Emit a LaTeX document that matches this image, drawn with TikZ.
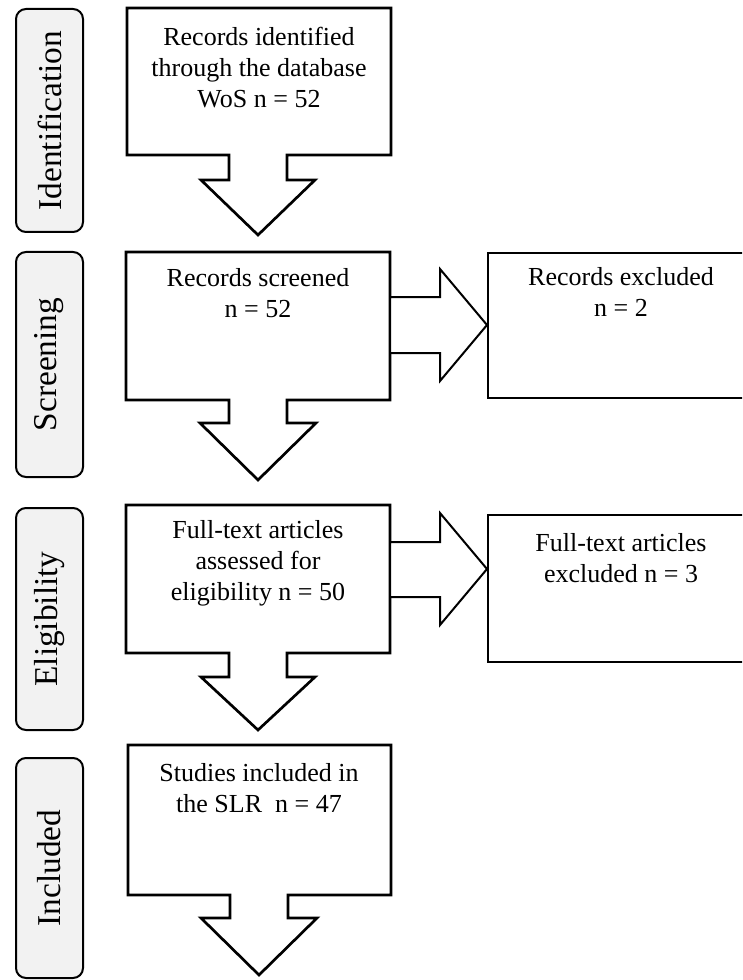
\documentclass[tikz,border=0pt]{standalone}
\usepackage{fontspec}
\setmainfont{Liberation Serif}
\definecolor{stagegray}{HTML}{F2F2F2}
\begin{document}
\begin{tikzpicture}[x=0.75pt,y=-0.75pt,
  boxline/.style={draw=black, line width=2pt, line join=miter, fill=white},
  arrowline/.style={draw=black, line width=1.5pt, line join=miter, fill=white},
  stage/.style={draw=black, line width=1.5pt, rounded corners=7.5pt, fill=stagegray,
    rotate=90, minimum height=50.25pt, inner sep=0pt,
    font=\fontsize{25}{30}\selectfont},
  boxtext/.style={anchor=north, inner sep=0pt, align=center,
    font=\fontsize{19.5}{23.25}\selectfont}]
\clip (0,0) rectangle (742,980);
\fill[white] (0,0) rectangle (742,980);

% stage labels
\node[stage, minimum width=167.25pt] (L1) at (49.5,120.5) {Identification};
\node[stage, minimum width=168.75pt] (L2) at (49.5,364.5) {Screening};
\node[stage, minimum width=166.5pt]  (L3) at (49.5,619) {Eligibility};
\node[stage, minimum width=165pt]    (L4) at (49.5,868) {Included};

% callout boxes with down arrows
\draw[boxline] (127,8) -- (391,8) -- (391,155) -- (287,155) -- (287,180) -- (315,180)
  -- (258,235) -- (201,180) -- (229,180) -- (229,155) -- (127,155) -- cycle;
\draw[boxline] (126,252) -- (390,252) -- (390,400) -- (287,400) -- (287,423) -- (316,423)
  -- (258,480) -- (200,423) -- (229,423) -- (229,400) -- (126,400) -- cycle;
\draw[boxline] (126,505) -- (390,505) -- (390,653) -- (287,653) -- (287,677) -- (315,677)
  -- (258,730) -- (201,677) -- (229,677) -- (229,653) -- (126,653) -- cycle;
\draw[boxline] (128,745) -- (391,745) -- (391,895) -- (288,895) -- (288,918) -- (317,918)
  -- (259,975) -- (201,918) -- (230,918) -- (230,895) -- (128,895) -- cycle;

% right boxes
\draw[boxline] (488,253) rectangle (756,398);
\draw[boxline] (488,515) rectangle (756,662);

% right arrows
\coordinate (a2e) at (487,325);
\draw[arrowline] (390,297) -- (440,297) -- (440,269) -- (a2e) -- (440,381) -- (440,353)
  -- (390,353) -- cycle;
\coordinate (a3e) at (487,569);
\draw[arrowline] (390,542) -- (440,542) -- (440,513) -- (a3e) -- (440,625) -- (440,597)
  -- (390,597) -- cycle;

% texts
\node[boxtext] (t1) at (259,27) {Records identified\\through the database\\WoS n = 52};
\node[boxtext] (t2) at (258,268) {Records screened\\n = 52};
\node[boxtext] (t3) at (258,520) {Full-text articles\\assessed for\\eligibility n = 50};
\node[boxtext] (t4) at (259,763) {Studies included in\\the SLR\ \ n = 47};
\node[boxtext] (r2) at (621,267) {Records excluded\\n = 2};
\node[boxtext] (r3) at (621,533) {Full-text articles\\excluded n = 3};
\end{tikzpicture}
\end{document}
